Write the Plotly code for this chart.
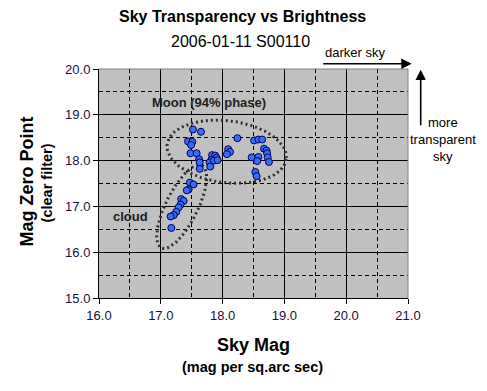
import numpy as np
import plotly.graph_objects as go

# ---- data ----
moon_sky_mag = [17.52, 17.65, 17.44, 17.51, 17.49, 17.48, 17.58, 17.62, 17.63, 17.63,
                17.83, 17.82, 17.79, 17.80, 17.88, 17.90, 17.86, 17.92, 18.09, 18.12,
                18.07, 18.24, 18.51, 18.58, 18.64, 18.67, 18.71, 18.72, 18.73, 18.75,
                18.47, 18.58, 18.56, 18.53, 18.55]
moon_zero_pt = [18.68, 18.63, 18.42, 18.41, 18.34, 18.16, 18.16, 18.03, 17.96, 17.82,
                18.12, 18.02, 17.96, 17.87, 18.11, 18.06, 18.00, 18.01, 18.25, 18.19,
                18.14, 18.49, 18.44, 18.46, 18.46, 18.26, 18.22, 18.16, 18.07, 17.97,
                18.07, 18.08, 17.99, 17.75, 17.66]
cloud_sky_mag = [17.47, 17.53, 17.45, 17.42, 17.33, 17.37, 17.32, 17.29, 17.25, 17.21,
                 17.16, 17.17]
cloud_zero_pt = [17.52, 17.48, 17.37, 17.35, 17.16, 17.12, 17.04, 16.98, 16.88, 16.81,
                 16.78, 16.53]

x_range = [16, 21]
y_range = [15, 20]
tick_vals_x = [16, 17, 18, 19, 20, 21]
tick_vals_y = [15, 16, 17, 18, 19, 20]

subtitle_text = "2006-01-11 S00110"

# ---- layout geometry (pixels) ----
W, H = 487, 391
L, R, T, B = 99.3, 408.3, 69.3, 298.3
PW, PH = R - L, B - T
FONT = "Arial, Liberation Sans, sans-serif"


def px(xp, yp):
    return (xp - L) / PW, (B - yp) / PH


def ellipse(cx, cy, a, b, ang_deg, n=120):
    # ellipse defined in pixel space, converted to data units
    t = np.linspace(0, 2 * np.pi, n)
    ang = np.radians(ang_deg)
    xp = cx + a * np.cos(t) * np.cos(ang) - b * np.sin(t) * np.sin(ang)
    yp = cy + a * np.cos(t) * np.sin(ang) + b * np.sin(t) * np.cos(ang)
    xd = x_range[0] + (xp - L) / PW * (x_range[1] - x_range[0])
    yd = y_range[1] - (yp - T) / PH * (y_range[1] - y_range[0])
    return xd, yd


fig = go.Figure()

for (cx, cy, a, b, ang) in [(227, 152, 60, 31, 7), (182, 207, 46, 16, -63.6)]:
    ex, ey = ellipse(cx, cy, a, b, ang)
    fig.add_trace(go.Scatter(x=ex, y=ey, mode="lines", hoverinfo="skip",
                             line=dict(color="#303030", width=3, dash="2px,3px"),
                             showlegend=False))

fig.add_trace(go.Scatter(
    x=moon_sky_mag + cloud_sky_mag, y=moon_zero_pt + cloud_zero_pt, mode="markers",
    marker=dict(symbol="circle", size=7, color="#3A6DF0",
                line=dict(color="#000060", width=1)),
    showlegend=False))

axis_common = dict(
    showgrid=True, gridcolor="black", gridwidth=1,
    showline=True, linecolor="black", linewidth=1,
    ticks="outside", ticklen=5, tickcolor="black", tickwidth=1,
    tickformat=".1f", zeroline=False,
    tickfont=dict(family=FONT, size=13, color="#1a1040"),
    minor=dict(dtick=0.5, showgrid=True, gridcolor="black", gridwidth=1,
               griddash="4px,3px", ticks=""),
)

fig.update_xaxes(range=x_range, tickvals=tick_vals_x, **axis_common)
fig.update_yaxes(range=y_range, tickvals=tick_vals_y, **axis_common)

ann = []


def text(xp, yp, s, size, bold=False, color="black", angle=0):
    x, y = px(xp, yp)
    ann.append(dict(x=x, y=y, xref="paper", yref="paper", showarrow=False,
                    text=f"<b>{s}</b>" if bold else s, textangle=angle,
                    font=dict(family=FONT, size=size, color=color),
                    xanchor="center", yanchor="middle"))


text(243, 17, "Sky Transparency vs Brightness", 16, bold=True)
text(241, 42, subtitle_text, 16)
text(254, 345, "Sky Mag", 18, bold=True)
text(253, 367, "(mag per sq.arc sec)", 14.5, bold=True)
text(27, 182, "Mag Zero Point", 18, bold=True, angle=-90)
text(47, 183, "(clear filter)", 14.5, bold=True, angle=-90)
text(209, 103, "Moon (94% phase)", 13, bold=True, color="#202020")
text(131, 217, "cloud", 13, bold=True, color="#202020")
text(355, 53, "darker sky", 13)
text(443, 123, "more", 13)
text(443, 140, "transparent", 13)
text(443, 157, "sky", 13)

# arrows
hx, hy = px(412, 64)
ann.append(dict(x=hx, y=hy, xref="paper", yref="paper", ax=-90, ay=0,
                showarrow=True, arrowhead=2, arrowsize=1.3, arrowwidth=1.6,
                arrowcolor="black", text=""))
vx, vy = px(421, 70)
ann.append(dict(x=vx, y=vy, xref="paper", yref="paper", ax=0, ay=57,
                showarrow=True, arrowhead=2, arrowsize=1.3, arrowwidth=1.6,
                arrowcolor="black", text=""))

fig.update_layout(
    width=W, height=H,
    margin=dict(l=L, r=W - R, t=T, b=H - B, pad=0),
    plot_bgcolor="#C0C0C0", paper_bgcolor="white",
    annotations=ann,
    shapes=[dict(type="line", xref="paper", yref="paper", x0=0, x1=1, y0=1, y1=1,
                 line=dict(color="#808080", width=1)),
            dict(type="line", xref="paper", yref="paper", x0=1, x1=1, y0=0, y1=1,
                 line=dict(color="#808080", width=1))],
    font=dict(family=FONT),
)

fig.write_html(
    "out.html",
    config={"displayModeBar": False},
    post_script="document.body.style.margin='0px';document.body.style.overflow='hidden';",
)
